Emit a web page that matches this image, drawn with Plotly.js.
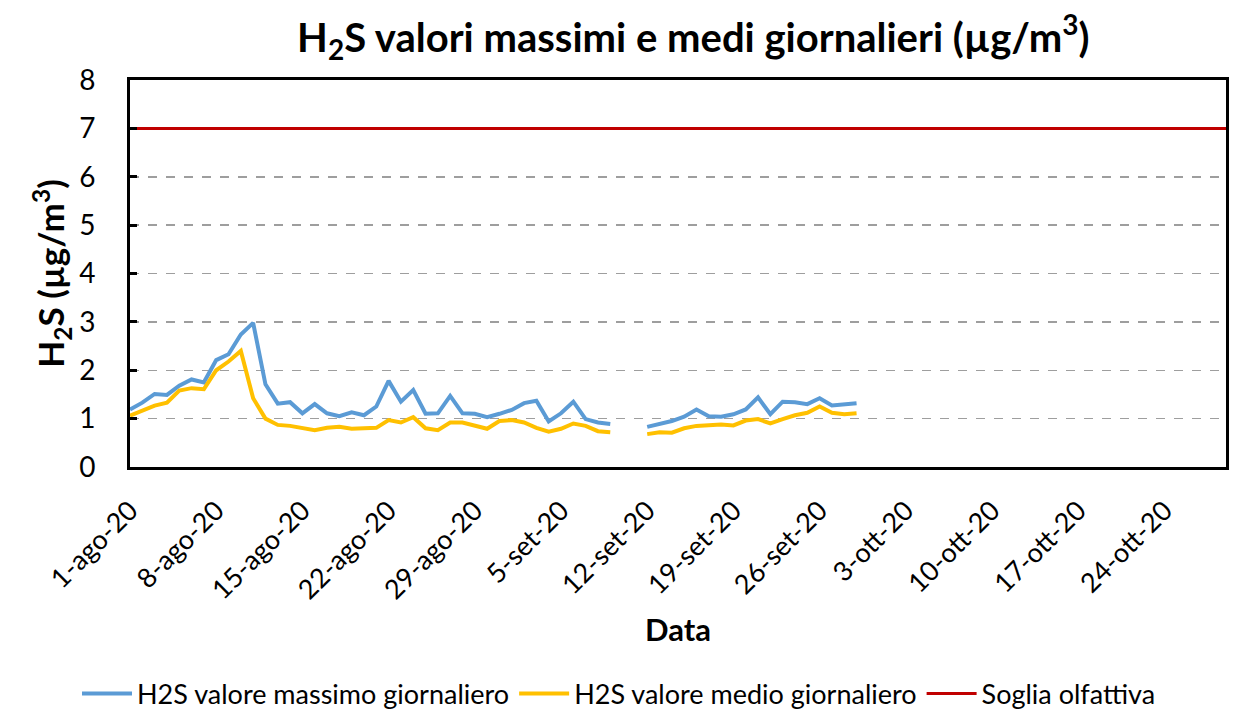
<!DOCTYPE html>
<html>
<head>
<meta charset="utf-8">
<script src="https://cdn.plot.ly/plotly-3.0.1.min.js"></script>
<style>html,body{margin:0;padding:0;background:#fff;}#chart{width:1238px;height:714px;}</style>
</head>
<body>
<div id="chart"></div>
<script>
// ---- data ----
var startDate = '2020-08-01';
var maxValues = [1.19,1.33,1.51,1.49,1.68,1.81,1.75,2.21,2.33,2.74,
                 2.98,1.71,1.31,1.34,1.11,1.30,1.11,1.05,1.13,1.07,
                 1.25,1.78,1.35,1.59,1.10,1.11,1.47,1.11,1.10,1.03,
                 1.10,1.18,1.32,1.37,0.94,1.11,1.35,0.99,0.92,0.89,
                 null,null,0.83,0.89,0.95,1.04,1.19,1.05,1.04,1.09,
                 1.19,1.44,1.09,1.35,1.34,1.30,1.42,1.27,1.30,1.32];
var meanValues = [1.06,1.16,1.27,1.33,1.58,1.63,1.61,2.00,2.18,2.40,
                  1.42,1.00,0.87,0.85,0.81,0.76,0.81,0.83,0.79,0.81,
                  0.81,0.97,0.92,1.03,0.80,0.76,0.92,0.92,0.85,0.79,
                  0.95,0.97,0.92,0.81,0.73,0.79,0.90,0.85,0.74,0.72,
                  null,null,0.68,0.72,0.71,0.80,0.85,0.87,0.88,0.86,
                  0.96,0.99,0.90,0.99,1.07,1.12,1.25,1.12,1.09,1.11];
var thresholdDates = ['2020-08-01','2020-10-29'];
var thresholdValues = [7,7];
var tickDates = ['2020-08-01','2020-08-08','2020-08-15','2020-08-22','2020-08-29','2020-09-05',
                 '2020-09-12','2020-09-19','2020-09-26','2020-10-03','2020-10-10','2020-10-17','2020-10-24'];
var tickLabels = ['1-ago-20','8-ago-20','15-ago-20','22-ago-20','29-ago-20','5-set-20',
                  '12-set-20','19-set-20','26-set-20','3-ott-20','10-ott-20','17-ott-20','24-ott-20'];
var seriesNames = ['H2S valore massimo giornaliero','H2S valore medio giornaliero','Soglia olfattiva'];

// daily dates from start
var dates = [];
(function(){
  var d0 = new Date(startDate + 'T00:00:00Z');
  for (var i = 0; i < maxValues.length; i++) {
    var d = new Date(d0.getTime() + i*86400000);
    dates.push(d.toISOString().slice(0,10));
  }
})();

var FONT = 'Lato, "Open Sans", sans-serif';

var traces = [
  {x: dates, y: maxValues, name: seriesNames[0], type: 'scatter', mode: 'lines',
   line: {color: '#5B9BD5', width: 4}, connectgaps: false},
  {x: dates, y: meanValues, name: seriesNames[1], type: 'scatter', mode: 'lines',
   line: {color: '#FFC000', width: 4}, connectgaps: false},
  {x: thresholdDates, y: thresholdValues, name: seriesNames[2], type: 'scatter', mode: 'lines',
   line: {color: '#C00000', width: 3}}
];

var layout = {
  width: 1238, height: 714,
  paper_bgcolor: '#fff', plot_bgcolor: '#fff',
  margin: {l: 130, r: 12, t: 80, b: 247},
  font: {family: FONT, color: '#000'},
  title: {text: '<b>H<sub>2</sub>S valori massimi e medi giornalieri (µg/m<sup>3</sup>)</b>',
          font: {size: 40, family: FONT, color: '#000'},
          x: 0.56, xanchor: 'center', xref: 'container', y: 0.947, yanchor: 'middle', yref: 'container'},
  xaxis: {
    type: 'date', range: ['2020-08-01', '2020-10-29'],
    tickmode: 'array', tickvals: tickDates, ticktext: tickLabels,
    tickangle: -45, tickfont: {size: 27, family: FONT, color: '#000'},
    ticklabelstandoff: 14,
    showgrid: false, zeroline: false,
    showline: true, linecolor: '#000', linewidth: 3, mirror: true,
    ticks: '',
    title: {text: '<b>Data</b>', font: {size: 31, family: FONT, color: '#000'}, standoff: 16}
  },
  yaxis: {
    range: [0, 8], dtick: 1, tick0: 0,
    tickfont: {size: 28, family: FONT, color: '#000'},
    ticklabelstandoff: 26,
    showgrid: true, gridcolor: '#9E9E9E', gridwidth: 1.5, griddash: 'dash',
    zeroline: false,
    showline: true, linecolor: '#000', linewidth: 3, mirror: true,
    ticks: 'inside', ticklen: 7, tickwidth: 3, tickcolor: '#000',
    title: {text: '<b>H<sub>2</sub>S (µg/m<sup>3</sup>)</b>', font: {size: 35, family: FONT, color: '#000'}, standoff: 4}
  },
  showlegend: true,
  legend: {orientation: 'h', xref: 'container', yref: 'container', x: 0.5, xanchor: 'center',
           y: 0.028, yanchor: 'middle', font: {size: 27, family: FONT, color: '#000'},
           itemwidth: 50, traceorder: 'normal'}
};

Plotly.newPlot('chart', traces, layout, {displayModeBar: false, staticPlot: true});
</script>
</body>
</html>
